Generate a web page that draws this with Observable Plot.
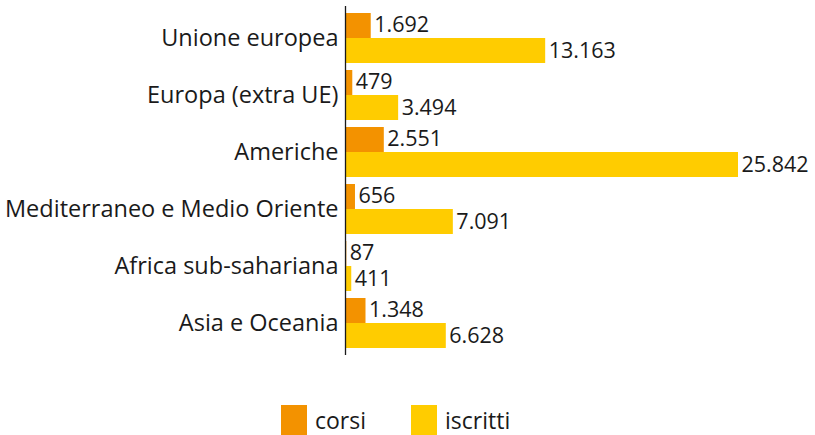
<!DOCTYPE html>
<html>
<head>
<meta charset="utf-8">
<script src="https://cdn.jsdelivr.net/npm/d3@7"></script>
<script src="https://cdn.jsdelivr.net/npm/@observablehq/plot@0.6"></script>
<style>
  html, body { margin: 0; padding: 0; background: #fff; }
  body { width: 815px; font-family: "Open Sans", sans-serif; color: #1a1a1a; }
  #legend { display: flex; gap: 0; margin-top: 30px; padding-left: 281px; height: 30px; align-items: center; }
  .item { display: flex; align-items: center; margin-right: 45px; font-size: 23px; }
  .sw { width: 26px; height: 30px; margin-right: 8px; }
</style>
</head>
<body>
<div id="chart"></div>
<div id="legend"></div>
<script>
const categories = ["Unione europea", "Europa (extra UE)", "Americhe", "Mediterraneo e Medio Oriente", "Africa sub-sahariana", "Asia e Oceania"];
const corsi = [1692, 479, 2551, 656, 87, 1348];
const iscritti = [13163, 3494, 25842, 7091, 411, 6628];
const seriesNames = ["corsi", "iscritti"];
const seriesColors = ["#F39200", "#FFCC00"];

const fmt = d3.formatLocale({decimal: ",", thousands: ".", grouping: [3], currency: ["", "€"]}).format(",d");

const dataCorsi = categories.map((c, i) => ({cat: c, value: corsi[i]}));
const dataIscritti = categories.map((c, i) => ({cat: c, value: iscritti[i]}));

const chart = Plot.plot({
  width: 815,
  height: 375,
  marginLeft: 345,
  marginRight: 77,
  marginTop: 6,
  marginBottom: 20,
  style: {fontFamily: "'Open Sans', sans-serif", fontSize: "22px", color: "#1a1a1a", background: "#fff"},
  x: {domain: [0, 25842], axis: null},
  y: {domain: categories, padding: 0.1228, label: null},
  marks: [
    Plot.barX(dataCorsi, {x: "value", y: "cat", fill: seriesColors[0], insetBottom: 25}),
    Plot.barX(dataIscritti, {x: "value", y: "cat", fill: seriesColors[1], insetTop: 25}),
    Plot.text(dataCorsi, {x: "value", y: "cat", text: d => fmt(d.value), dy: -13, dx: 3, textAnchor: "start", fill: "#1a1a1a", fontSize: 21.5}),
    Plot.text(dataIscritti, {x: "value", y: "cat", text: d => fmt(d.value), dy: 13, dx: 3, textAnchor: "start", fill: "#1a1a1a", fontSize: 21.5}),
    Plot.axisY({tickSize: 0, tickPadding: 7, fontSize: 23.5, label: null, fill: "#1a1a1a"}),
    Plot.ruleX([0], {stroke: "#1a1a1a", strokeWidth: 1.3})
  ]
});
document.getElementById("chart").appendChild(chart);

const legend = document.getElementById("legend");
seriesNames.forEach((n, i) => {
  const it = document.createElement("div");
  it.className = "item";
  it.innerHTML = `<span class="sw" style="background:${seriesColors[i]}"></span><span>${n}</span>`;
  legend.appendChild(it);
});
</script>
</body>
</html>
